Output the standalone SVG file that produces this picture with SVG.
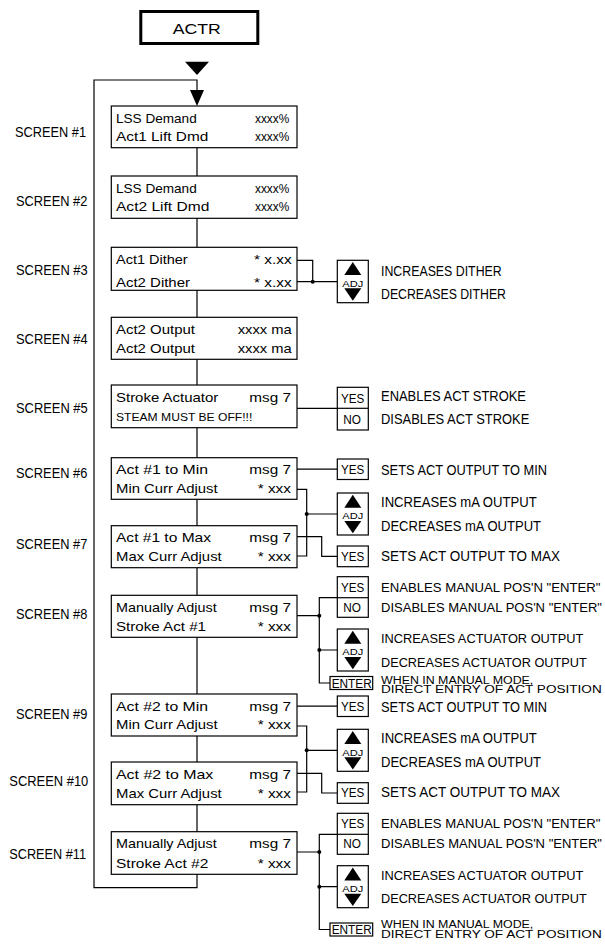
<svg xmlns="http://www.w3.org/2000/svg" width="605" height="946" viewBox="0 0 605 946">
<style>
.bg{fill:#fff}
.box{fill:#fff;stroke:#000;stroke-width:1.2}
.ln{fill:none;stroke:#000;stroke-width:1.2}
.dot{fill:#000}
.tri{fill:#000}
text{font-family:"Liberation Sans",Arial,sans-serif;fill:#000}
.t{font-size:13px}
.st{font-size:10.5px}
.lb{font-size:14px}
.d{font-size:14px}
.dl{font-size:13px}
.d2{font-size:10px}
.btn{font-size:13px}
.adj{font-size:9px}
.ent{font-size:12px}
.ttl{font-size:15.5px}
</style>
<rect class="bg" x="0" y="0" width="605" height="946"/>

<g id="actr">
<rect x="140.8" y="11.5" width="117" height="32" fill="#fff" stroke="#000" stroke-width="3"/>
<text class="ttl" x="172.7" y="34.3" textLength="48" lengthAdjust="spacingAndGlyphs">ACTR</text>
<polygon class="tri" points="185,61.7 209,61.7 197,75"/>
</g>

<g id="connectors">
<path class="ln" d="M197,874.3 V887.7 H94 V80 H197 V90"/>
<polygon class="tri" points="190,90 204,90 197,106"/>
<path class="ln" d="M197,147.7 V176 M197,218.3 V247.3 M197,290.3 V317.3 M197,359.3 V385 M197,427.7 V457.7 M197,499.3 V525.7 M197,567.7 V595.3 M197,637.3 V694 M197,736 V762 M197,804.7 V831.7"/>
<path class="ln" d="M297,260.3 H312.7 V281.7 M297,281.7 H337.3"/>
<circle class="dot" cx="312.7" cy="281.7" r="2"/>
<path class="ln" d="M297,408.3 H337.3"/>
<path class="ln" d="M297,469.2 H337.3"/>
<path class="ln" d="M297,489.3 H306.7 V556 H297 M306.7,514 H337.3 M297,536.7 H321.7 V556.3 H337.3"/>
<circle class="dot" cx="306.7" cy="514" r="2"/>
<path class="ln" d="M297,615.7 H319.3 M337.3,597.7 H319.3 V683 H330 M319.3,650 H337.3"/>
<circle class="dot" cx="319.3" cy="615.7" r="2"/>
<circle class="dot" cx="319.3" cy="650" r="2"/>
<path class="ln" d="M297,706.2 H337.3"/>
<path class="ln" d="M297,726 H306.7 V792 H297 M306.7,750.3 H337.3 M297,773.3 H321.7 V793 H337.3"/>
<circle class="dot" cx="306.7" cy="750.3" r="2"/>
<path class="ln" d="M297,852 H319.3 M337.3,834.3 H319.3 V929.5 H330 M319.3,886.7 H337.3"/>
<circle class="dot" cx="319.3" cy="852" r="2"/>
<circle class="dot" cx="319.3" cy="886.7" r="2"/>
</g>

<g id="screen1">
<text class="lb" x="15" y="137.3" textLength="71" lengthAdjust="spacingAndGlyphs">SCREEN #1</text>
<rect class="box" x="111.3" y="106" width="185.7" height="41.7"/>
<text class="t" x="116" y="122.7" textLength="80.7" lengthAdjust="spacingAndGlyphs">LSS Demand</text>
<text class="t" x="255" y="122.7" textLength="34.3" lengthAdjust="spacingAndGlyphs">xxxx%</text>
<text class="t" x="116" y="141" textLength="92.3" lengthAdjust="spacingAndGlyphs">Act1 Lift Dmd</text>
<text class="t" x="255" y="141" textLength="34.3" lengthAdjust="spacingAndGlyphs">xxxx%</text>
</g>

<g id="screen2">
<text class="lb" x="16" y="205.7" textLength="71.3" lengthAdjust="spacingAndGlyphs">SCREEN #2</text>
<rect class="box" x="111.3" y="176" width="185.7" height="42.3"/>
<text class="t" x="116" y="192.7" textLength="80.7" lengthAdjust="spacingAndGlyphs">LSS Demand</text>
<text class="t" x="255" y="192.7" textLength="34.3" lengthAdjust="spacingAndGlyphs">xxxx%</text>
<text class="t" x="116" y="211" textLength="93.3" lengthAdjust="spacingAndGlyphs">Act2 Lift Dmd</text>
<text class="t" x="255" y="211" textLength="34.3" lengthAdjust="spacingAndGlyphs">xxxx%</text>
</g>

<g id="screen3">
<text class="lb" x="16" y="275" textLength="71.7" lengthAdjust="spacingAndGlyphs">SCREEN #3</text>
<rect class="box" x="111.3" y="247.3" width="185.7" height="43"/>
<text class="t" x="116" y="264.3" textLength="71.7" lengthAdjust="spacingAndGlyphs">Act1 Dither</text>
<text class="t" x="254" y="264.3" textLength="37.7" lengthAdjust="spacingAndGlyphs">* x.xx</text>
<text class="t" x="116" y="286.7" textLength="74" lengthAdjust="spacingAndGlyphs">Act2 Dither</text>
<text class="t" x="254" y="286.7" textLength="37.7" lengthAdjust="spacingAndGlyphs">* x.xx</text>
</g>

<g id="screen3-adj">
<rect class="box" x="337.3" y="260.3" width="31" height="42.4"/>
<polygon class="tri" points="352.8,262 361.3,275 344.3,275"/>
<text class="adj" x="342.3" y="286.7" textLength="21" lengthAdjust="spacingAndGlyphs">ADJ</text>
<polygon class="tri" points="344.3,288.3 361.3,288.3 352.8,300.7"/>
<text class="d" x="381" y="276" textLength="120.7" lengthAdjust="spacingAndGlyphs">INCREASES DITHER</text>
<text class="d" x="381" y="299" textLength="125" lengthAdjust="spacingAndGlyphs">DECREASES DITHER</text>
</g>

<g id="screen4">
<text class="lb" x="16" y="344.3" textLength="71.7" lengthAdjust="spacingAndGlyphs">SCREEN #4</text>
<rect class="box" x="111.3" y="317.3" width="185.7" height="42"/>
<text class="t" x="116" y="334" textLength="79" lengthAdjust="spacingAndGlyphs">Act2 Output</text>
<text class="t" x="237.7" y="334" textLength="54" lengthAdjust="spacingAndGlyphs">xxxx ma</text>
<text class="t" x="116" y="353.3" textLength="79" lengthAdjust="spacingAndGlyphs">Act2 Output</text>
<text class="t" x="237.7" y="353.3" textLength="54" lengthAdjust="spacingAndGlyphs">xxxx ma</text>
</g>

<g id="screen5">
<text class="lb" x="16" y="412.7" textLength="71.7" lengthAdjust="spacingAndGlyphs">SCREEN #5</text>
<rect class="box" x="111.3" y="385" width="185.7" height="42.7"/>
<text class="t" x="116" y="402.3" textLength="102.3" lengthAdjust="spacingAndGlyphs">Stroke Actuator</text>
<text class="t" x="249.3" y="402.3" textLength="41.7" lengthAdjust="spacingAndGlyphs">msg 7</text>
<text class="st" x="116" y="420.7" textLength="136.3" lengthAdjust="spacingAndGlyphs">STEAM MUST BE OFF!!!</text>
</g>

<g id="screen5-yesno">
<rect class="box" x="337.3" y="387.3" width="31" height="42.7"/>
<line class="ln" x1="337.3" y1="408.3" x2="368.3" y2="408.3"/>
<text class="btn" x="341" y="403.3" textLength="23.3" lengthAdjust="spacingAndGlyphs">YES</text>
<text class="btn" x="343.3" y="424" textLength="17.7" lengthAdjust="spacingAndGlyphs">NO</text>
<text class="d" x="381" y="401" textLength="145" lengthAdjust="spacingAndGlyphs">ENABLES ACT STROKE</text>
<text class="d" x="381" y="424" textLength="148.3" lengthAdjust="spacingAndGlyphs">DISABLES ACT STROKE</text>
</g>

<g id="screen6">
<text class="lb" x="16" y="478.3" textLength="71.3" lengthAdjust="spacingAndGlyphs">SCREEN #6</text>
<rect class="box" x="111.3" y="457.7" width="185.7" height="41.6"/>
<text class="t" x="116" y="474" textLength="92" lengthAdjust="spacingAndGlyphs">Act #1 to Min</text>
<text class="t" x="249.3" y="474" textLength="41.7" lengthAdjust="spacingAndGlyphs">msg 7</text>
<text class="t" x="116" y="492.7" textLength="101.7" lengthAdjust="spacingAndGlyphs">Min Curr Adjust</text>
<text class="t" x="257.7" y="492.7" textLength="33.3" lengthAdjust="spacingAndGlyphs">* xxx</text>
</g>

<g id="screen6-yes">
<rect class="box" x="337.3" y="459" width="31" height="20.5"/>
<text class="btn" x="341" y="473.7" textLength="23.3" lengthAdjust="spacingAndGlyphs">YES</text>
<text class="d" x="381" y="475" textLength="166" lengthAdjust="spacingAndGlyphs">SETS ACT OUTPUT TO MIN</text>
</g>

<g id="screen67-adj">
<rect class="box" x="337.3" y="493" width="31" height="42"/>
<polygon class="tri" points="352.8,494.7 361.3,507.7 344.3,507.7"/>
<text class="adj" x="342.3" y="519.4" textLength="21" lengthAdjust="spacingAndGlyphs">ADJ</text>
<polygon class="tri" points="344.3,521 361.3,521 352.8,533.2"/>
<text class="d" x="381" y="507.3" textLength="155.7" lengthAdjust="spacingAndGlyphs">INCREASES mA OUTPUT</text>
<text class="d" x="381" y="531" textLength="160" lengthAdjust="spacingAndGlyphs">DECREASES mA OUTPUT</text>
</g>

<g id="screen7">
<text class="lb" x="16" y="549.3" textLength="71.3" lengthAdjust="spacingAndGlyphs">SCREEN #7</text>
<rect class="box" x="111.3" y="525.7" width="185.7" height="42"/>
<text class="t" x="116" y="541.7" textLength="95" lengthAdjust="spacingAndGlyphs">Act #1 to Max</text>
<text class="t" x="249.3" y="541.7" textLength="41.7" lengthAdjust="spacingAndGlyphs">msg 7</text>
<text class="t" x="116" y="561" textLength="105.7" lengthAdjust="spacingAndGlyphs">Max Curr Adjust</text>
<text class="t" x="257.7" y="561" textLength="33.3" lengthAdjust="spacingAndGlyphs">* xxx</text>
</g>

<g id="screen7-yes">
<rect class="box" x="337.3" y="546" width="31" height="20.7"/>
<text class="btn" x="341" y="560.7" textLength="23.3" lengthAdjust="spacingAndGlyphs">YES</text>
<text class="d" x="381" y="560.7" textLength="179" lengthAdjust="spacingAndGlyphs">SETS ACT OUTPUT TO MAX</text>
</g>

<g id="screen8">
<text class="lb" x="16" y="619" textLength="71.3" lengthAdjust="spacingAndGlyphs">SCREEN #8</text>
<rect class="box" x="111.3" y="595.3" width="185.7" height="42"/>
<text class="t" x="116" y="611.7" textLength="100.7" lengthAdjust="spacingAndGlyphs">Manually Adjust</text>
<text class="t" x="249.3" y="611.7" textLength="41.7" lengthAdjust="spacingAndGlyphs">msg 7</text>
<text class="t" x="116" y="631" textLength="90" lengthAdjust="spacingAndGlyphs">Stroke Act #1</text>
<text class="t" x="257.7" y="631" textLength="33.3" lengthAdjust="spacingAndGlyphs">* xxx</text>
</g>

<g id="screen8-yesno">
<rect class="box" x="337.3" y="576.7" width="31" height="40.6"/>
<line class="ln" x1="337.3" y1="597.7" x2="368.3" y2="597.7"/>
<text class="btn" x="341" y="591.7" textLength="23.3" lengthAdjust="spacingAndGlyphs">YES</text>
<text class="btn" x="343.3" y="611.7" textLength="17.7" lengthAdjust="spacingAndGlyphs">NO</text>
<text class="dl" x="381" y="591.7" textLength="219.5" lengthAdjust="spacingAndGlyphs">ENABLES MANUAL POS'N "ENTER"</text>
<text class="dl" x="381" y="611.7" textLength="221" lengthAdjust="spacingAndGlyphs">DISABLES MANUAL POS'N "ENTER"</text>
</g>

<g id="screen8-adj">
<rect class="box" x="337.3" y="629" width="31" height="42"/>
<polygon class="tri" points="352.8,630.7 361.3,643.7 344.3,643.7"/>
<text class="adj" x="342.3" y="655.4" textLength="21" lengthAdjust="spacingAndGlyphs">ADJ</text>
<polygon class="tri" points="344.3,657 361.3,657 352.8,669.2"/>
<text class="dl" x="381" y="643.3" textLength="202.3" lengthAdjust="spacingAndGlyphs">INCREASES ACTUATOR OUTPUT</text>
<text class="dl" x="381" y="666.7" textLength="205.7" lengthAdjust="spacingAndGlyphs">DECREASES ACTUATOR OUTPUT</text>
</g>

<g id="screen8-enter">
<rect class="box" x="330" y="676.5" width="42.7" height="13"/>
<text class="ent" x="331.7" y="687.7" textLength="40" lengthAdjust="spacingAndGlyphs">ENTER</text>
<text class="d2" x="381" y="683.5" textLength="152.3" lengthAdjust="spacingAndGlyphs">WHEN IN MANUAL MODE,</text>
<text class="d2" x="381" y="693.3" textLength="220.7" lengthAdjust="spacingAndGlyphs">DIRECT ENTRY OF ACT POSITION</text>
</g>

<g id="screen9">
<text class="lb" x="16" y="718.7" textLength="71.3" lengthAdjust="spacingAndGlyphs">SCREEN #9</text>
<rect class="box" x="111.3" y="694" width="185.7" height="42"/>
<text class="t" x="116" y="710.5" textLength="92" lengthAdjust="spacingAndGlyphs">Act #2 to Min</text>
<text class="t" x="249.3" y="710.5" textLength="41.7" lengthAdjust="spacingAndGlyphs">msg 7</text>
<text class="t" x="116" y="729.3" textLength="101.7" lengthAdjust="spacingAndGlyphs">Min Curr Adjust</text>
<text class="t" x="257.7" y="729.3" textLength="33.3" lengthAdjust="spacingAndGlyphs">* xxx</text>
</g>

<g id="screen9-yes">
<rect class="box" x="337.3" y="696" width="31" height="20.5"/>
<text class="btn" x="341" y="710.7" textLength="23.3" lengthAdjust="spacingAndGlyphs">YES</text>
<text class="d" x="381" y="712" textLength="166" lengthAdjust="spacingAndGlyphs">SETS ACT OUTPUT TO MIN</text>
</g>

<g id="screen910-adj">
<rect class="box" x="337.3" y="729.3" width="31" height="42"/>
<polygon class="tri" points="352.8,731 361.3,744 344.3,744"/>
<text class="adj" x="342.3" y="755.7" textLength="21" lengthAdjust="spacingAndGlyphs">ADJ</text>
<polygon class="tri" points="344.3,757.3 361.3,757.3 352.8,769.5"/>
<text class="d" x="381" y="743.3" textLength="155.7" lengthAdjust="spacingAndGlyphs">INCREASES mA OUTPUT</text>
<text class="d" x="381" y="767" textLength="160" lengthAdjust="spacingAndGlyphs">DECREASES mA OUTPUT</text>
</g>

<g id="screen10">
<text class="lb" x="9.3" y="786" textLength="79" lengthAdjust="spacingAndGlyphs">SCREEN #10</text>
<rect class="box" x="111.3" y="762" width="185.7" height="42.7"/>
<text class="t" x="116" y="778.7" textLength="97.3" lengthAdjust="spacingAndGlyphs">Act #2 to Max</text>
<text class="t" x="249.3" y="778.7" textLength="41.7" lengthAdjust="spacingAndGlyphs">msg 7</text>
<text class="t" x="116" y="798" textLength="105.7" lengthAdjust="spacingAndGlyphs">Max Curr Adjust</text>
<text class="t" x="257.7" y="798" textLength="33.3" lengthAdjust="spacingAndGlyphs">* xxx</text>
</g>

<g id="screen10-yes">
<rect class="box" x="337.3" y="782.7" width="31" height="20.6"/>
<text class="btn" x="341" y="797.4" textLength="23.3" lengthAdjust="spacingAndGlyphs">YES</text>
<text class="d" x="381" y="796.7" textLength="179" lengthAdjust="spacingAndGlyphs">SETS ACT OUTPUT TO MAX</text>
</g>

<g id="screen11">
<text class="lb" x="9.3" y="858.7" textLength="76.7" lengthAdjust="spacingAndGlyphs">SCREEN #11</text>
<rect class="box" x="111.3" y="831.7" width="185.7" height="42.6"/>
<text class="t" x="116" y="847.7" textLength="100.7" lengthAdjust="spacingAndGlyphs">Manually Adjust</text>
<text class="t" x="249.3" y="847.7" textLength="41.7" lengthAdjust="spacingAndGlyphs">msg 7</text>
<text class="t" x="116" y="867.7" textLength="92.3" lengthAdjust="spacingAndGlyphs">Stroke Act #2</text>
<text class="t" x="257.7" y="867.7" textLength="33.3" lengthAdjust="spacingAndGlyphs">* xxx</text>
</g>

<g id="screen11-yesno">
<rect class="box" x="337.3" y="813.3" width="31" height="41"/>
<line class="ln" x1="337.3" y1="834.3" x2="368.3" y2="834.3"/>
<text class="btn" x="341" y="827.7" textLength="23.3" lengthAdjust="spacingAndGlyphs">YES</text>
<text class="btn" x="343.3" y="848.3" textLength="17.7" lengthAdjust="spacingAndGlyphs">NO</text>
<text class="dl" x="381" y="827.7" textLength="219.5" lengthAdjust="spacingAndGlyphs">ENABLES MANUAL POS'N "ENTER"</text>
<text class="dl" x="381" y="847.7" textLength="221" lengthAdjust="spacingAndGlyphs">DISABLES MANUAL POS'N "ENTER"</text>
</g>

<g id="screen11-adj">
<rect class="box" x="337.3" y="865.7" width="31" height="42"/>
<polygon class="tri" points="352.8,867.4 361.3,880.4 344.3,880.4"/>
<text class="adj" x="342.3" y="892.1" textLength="21" lengthAdjust="spacingAndGlyphs">ADJ</text>
<polygon class="tri" points="344.3,893.7 361.3,893.7 352.8,905.9"/>
<text class="dl" x="381" y="880" textLength="202.3" lengthAdjust="spacingAndGlyphs">INCREASES ACTUATOR OUTPUT</text>
<text class="dl" x="381" y="902.7" textLength="205.7" lengthAdjust="spacingAndGlyphs">DECREASES ACTUATOR OUTPUT</text>
</g>

<g id="screen11-enter">
<rect class="box" x="330" y="923" width="42.7" height="13"/>
<text class="ent" x="331.7" y="934.2" textLength="40" lengthAdjust="spacingAndGlyphs">ENTER</text>
<text class="d2" x="381" y="928" textLength="152.3" lengthAdjust="spacingAndGlyphs">WHEN IN MANUAL MODE,</text>
<text class="d2" x="381" y="937.8" textLength="220.7" lengthAdjust="spacingAndGlyphs">DIRECT ENTRY OF ACT POSITION</text>
</g>
</svg>
